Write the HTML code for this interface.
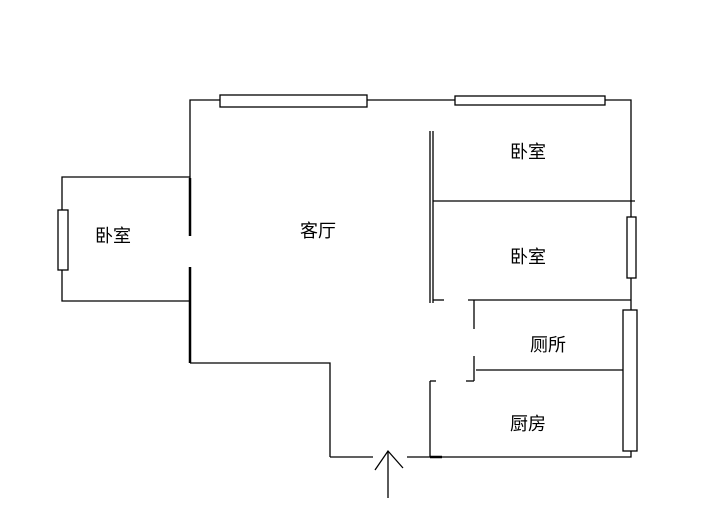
<!DOCTYPE html>
<html><head><meta charset="utf-8"><style>
html,body{margin:0;padding:0;background:#fff;}
svg{display:block;}
text{font-family:"Liberation Sans","Noto Sans CJK SC",sans-serif;font-size:18px;fill:#000;}
</style></head><body>
<svg width="702" height="532" viewBox="0 0 702 532" xmlns="http://www.w3.org/2000/svg">
<g stroke="#000" stroke-width="1.3" fill="none">
<!-- outer walls -->
<polyline points="190,178 190,100 631,100 631,457 407,457"/>
<line x1="330" y1="457" x2="373" y2="457"/>
<polyline points="190,363 330,363 330,457"/>
<!-- left bedroom -->
<polyline points="190,177 62,177 62,301 190,301"/>
<rect x="58" y="210" width="10" height="60" fill="#fff"/>
<!-- thick left wall -->
<line x1="190" y1="178" x2="190" y2="236" stroke-width="2.5"/>
<line x1="190" y1="267" x2="190" y2="363" stroke-width="2.5"/>
<!-- top windows -->
<rect x="220" y="95" width="147" height="12" fill="#fff"/>
<rect x="455" y="96" width="150" height="9" fill="#fff"/>
<!-- interior double wall -->
<line x1="430" y1="131" x2="430" y2="303"/>
<line x1="433" y1="131" x2="433" y2="303"/>
<line x1="433" y1="300" x2="444" y2="300"/>
<line x1="433" y1="201" x2="635" y2="201"/>
<!-- toilet -->
<line x1="468" y1="300" x2="631" y2="300"/>
<line x1="474" y1="300" x2="474" y2="329"/>
<line x1="474" y1="356" x2="474" y2="381"/>
<line x1="466" y1="381" x2="474" y2="381"/>
<line x1="476" y1="370" x2="631" y2="370"/>
<!-- kitchen left -->
<line x1="430" y1="381" x2="430" y2="457"/>
<line x1="430" y1="381" x2="436" y2="381"/>
<line x1="430" y1="457" x2="442" y2="457" stroke-width="2.5"/>
<!-- right windows -->
<rect x="627" y="217" width="9" height="61" fill="#fff"/>
<rect x="623" y="310" width="14" height="141" fill="#fff"/>
<!-- entry arrow -->
<line x1="388" y1="451" x2="388" y2="498"/>
<polyline points="375,470 388,451 403,468"/>
</g>
<text x="113" y="242" text-anchor="middle">卧室</text>
<text x="318" y="237" text-anchor="middle">客厅</text>
<text x="528" y="158" text-anchor="middle">卧室</text>
<text x="528" y="263" text-anchor="middle">卧室</text>
<text x="548" y="351" text-anchor="middle">厕所</text>
<text x="528" y="430" text-anchor="middle">厨房</text>
</svg>
</body></html>
